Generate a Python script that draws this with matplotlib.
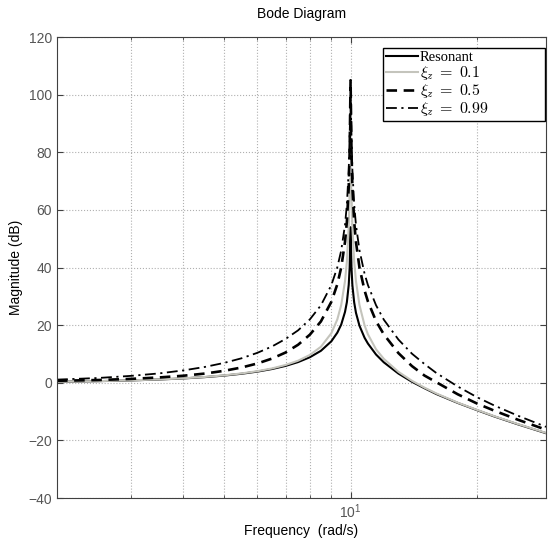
import numpy as np
import matplotlib
matplotlib.use('Agg')
from matplotlib import pyplot as plt
from matplotlib.ticker import FixedLocator, NullFormatter

# frequency points (rad/s), shared by all curves
freq = [2.0, 2.5, 3.0, 3.5, 4.0, 4.5, 5.0, 5.5, 6.0, 6.5, 7.0, 7.5, 8.0, 8.5,
        9.0, 9.3, 9.5, 9.7, 9.8, 9.9, 9.95, 10.0, 10.05, 10.1, 10.2, 10.3,
        10.5, 10.8, 11.0, 11.5, 12.0, 13.0, 14.0, 15.0, 16.0, 18.0, 20.0,
        22.0, 25.0, 29.2]

# magnitudes (dB)
mag_res = [0.35, 0.56, 0.82, 1.14, 1.51, 1.97, 2.5, 3.13, 3.88, 4.77, 5.85,
           7.18, 8.87, 11.1, 14.4, 17.4, 20.2, 24.6, 28.0, 34.0, 40.0, 54.0,
           40.0, 33.9, 27.9, 24.3, 19.8, 15.6, 13.6, 9.8, 7.1, 3.2, 0.35,
           -1.9, -3.9, -7.0, -9.5, -11.7, -14.4, -17.5]
mag_01 = [0.36, 0.58, 0.84, 1.18, 1.55, 2.03, 2.58, 3.25, 4.03, 4.98, 6.17,
          7.66, 9.66, 12.5, 17.2, 22.0, 27.0, 35.3, 42.1, 54.0, 66.0, 71.0,
          66.0, 54.0, 42.1, 35.3, 27.0, 19.9, 16.8, 11.6, 8.3, 3.8, 0.7,
          -1.7, -3.7, -6.9, -9.4, -11.6, -14.3, -17.4]
mag_05 = [0.7, 0.95, 1.35, 1.85, 2.45, 3.2, 4.15, 5.3, 6.7, 8.4, 10.5, 13.2,
          16.7, 21.3, 28.1, 34.2, 40.0, 48.9, 55.9, 68.0, 80.0, 105.0, 80.0,
          68.0, 55.9, 48.9, 40.0, 32.0, 28.2, 21.4, 16.8, 10.3, 5.8, 2.5,
          0.2, -4.0, -7.2, -9.7, -12.8, -16.3]
mag_099 = [1.1, 1.65, 2.4, 3.25, 4.3, 5.5, 6.9, 8.5, 10.4, 12.6, 15.2, 18.2,
           22.0, 26.9, 33.9, 40.1, 45.9, 54.8, 61.9, 73.9, 85.9, 100.0,
           85.9, 73.9, 61.9, 54.8, 46.0, 37.8, 33.9, 26.9, 21.9, 15.0, 10.1,
           6.5, 3.4, -1.3, -5.0, -7.9, -11.4, -15.3]

labels = ['Resonant', r'$\xi_z\;=\;0.1$', r'$\xi_z\;=\;0.5$',
          r'$\xi_z\;=\;0.99$']

plt.rcParams['font.family'] = ['Liberation Sans', 'DejaVu Sans']
plt.rcParams['mathtext.fontset'] = 'cm'

fig = plt.figure(figsize=(5.48, 5.45), dpi=100)
ax = fig.add_axes([0.104, 0.0862, 0.8924, 0.8458])

ax.plot(freq, mag_res, color='black', lw=1.5, label=labels[0])
ax.plot(freq, mag_01, color='#c4c4bc', lw=1.5, label=labels[1])
ax.plot(freq, mag_05, color='black', lw=1.9, ls=(0, (4, 2.5)),
        label=labels[2])
ax.plot(freq, mag_099, color='black', lw=1.3, ls=(0, (6, 2.5, 1.2, 2.5)),
        label=labels[3])

ax.set_xscale('log')
ax.set_xlim(2.0, 29.2)
ax.set_ylim(-40, 120)
ax.set_yticks(range(-40, 121, 20))
ax.xaxis.set_major_locator(FixedLocator([10]))
ax.xaxis.set_minor_locator(FixedLocator([3, 4, 5, 6, 7, 8, 9, 20]))
ax.xaxis.set_minor_formatter(NullFormatter())

ax.tick_params(which='both', direction='in', top=True, right=True,
               colors='#404040', labelcolor='#555555', labelsize=10)
ax.tick_params(which='major', length=4)
ax.tick_params(which='minor', length=2.5)
for sp in ax.spines.values():
    sp.set_color('#404040')
    sp.set_linewidth(0.8)

ax.grid(True, which='both', axis='x', ls=':', color='#b0b0b0', lw=0.8)
ax.grid(True, which='major', axis='y', ls=':', color='#b0b0b0', lw=0.8)

ax.set_xlabel('Frequency  (rad/s)', fontsize=10, labelpad=2)
ax.set_ylabel('Magnitude (dB)', fontsize=10)
ax.set_title('Bode Diagram', fontsize=10, pad=14)

# legend stretched to the width of the original box
leg = ax.legend(loc='upper left', bbox_to_anchor=(0.667, 0.0, 0.331, 0.977),
                mode='expand',
                prop={'family': 'Liberation Serif', 'size': 11.5},
                fancybox=False, edgecolor='black', framealpha=1,
                handlelength=2.0, handletextpad=0.15, borderpad=0.15,
                labelspacing=0.0, borderaxespad=0.0)
leg.get_frame().set_linewidth(1.0)
leg.get_texts()[0].set_fontsize(10.5)

fig.savefig('out.png', dpi=100)
